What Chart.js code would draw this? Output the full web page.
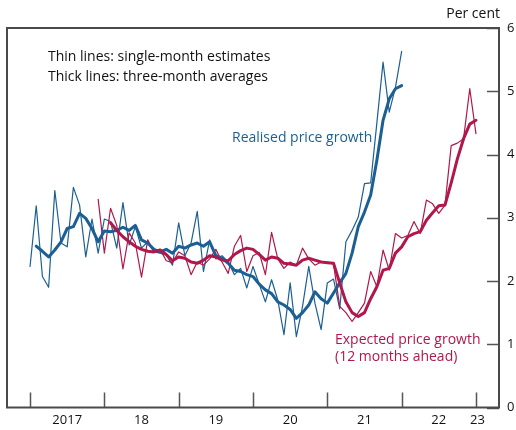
<!DOCTYPE html>
<html>
<head>
<meta charset="utf-8">
<script src="https://cdn.jsdelivr.net/npm/chart.js@4"></script>
<style>
  html, body { margin: 0; padding: 0; background: #ffffff; }
  #wrap { width: 516px; height: 430px; }
</style>
</head>
<body>
<div id="wrap"><canvas id="c" width="516" height="430"></canvas></div>
<script>
// ---- Data (monthly, per cent) ----
// Realised price growth, single-month estimates, from Jan 2017
const realisedStart = "2017-01";
const realisedSingle = [
  2.23, 3.19, 2.07, 1.90, 3.43, 2.60, 2.54, 3.48, 3.20, 2.38, 2.98, 2.44,
  2.98, 2.94, 2.52, 3.24, 2.57, 2.86, 2.52, 2.62, 2.46, 2.44, 2.41, 2.25,
  2.92, 2.40, 2.60, 3.10, 2.15, 2.65, 2.35, 2.40, 2.30, 2.10, 2.20, 1.89,
  2.23, 1.95, 1.67, 2.02, 1.70, 1.15, 1.97, 1.12, 1.60, 2.23, 1.65, 1.23,
  1.97, 2.03, 1.56, 2.62, 2.80, 3.01, 3.54, 3.55, 4.50, 5.46, 4.67, 5.06,
  5.63
];
// Realised price growth, three-month averages, from Feb 2017
const realisedAvgStart = "2017-02";
const realisedAvg = [
        2.55, 2.47, 2.38, 2.49, 2.62, 2.83, 2.86, 3.07, 2.99, 2.83, 2.62,
  2.79, 2.78, 2.80, 2.85, 2.80, 2.88, 2.65, 2.60, 2.50, 2.46, 2.50, 2.44,
  2.55, 2.52, 2.57, 2.60, 2.55, 2.62, 2.40, 2.36, 2.28, 2.17, 2.15, 2.10,
  2.07, 1.95, 1.86, 1.80, 1.67, 1.62, 1.55, 1.41, 1.50, 1.62, 1.83, 1.72,
  1.65, 1.81, 1.97, 2.12, 2.44, 2.86, 3.09, 3.36, 3.91, 4.54, 4.88, 5.04,
  5.09
];
// Expected price growth (12 months ahead), single-month estimates, from Dec 2017
const expectedStart = "2017-12";
const expectedSingle = [
                                                                      3.29,
  2.44, 3.15, 2.88, 2.19, 2.76, 2.60, 2.06, 2.65, 2.46, 2.50, 2.32, 2.29,
  2.46, 2.40, 2.10, 2.30, 2.25, 2.35, 2.50, 2.30, 2.12, 2.55, 2.72, 2.15,
  2.40, 2.45, 2.10, 2.77, 2.35, 2.20, 2.30, 2.25, 2.52, 2.35, 2.25, 2.30,
  2.30, 2.27, 1.60, 1.50, 1.36, 1.50, 1.65, 2.15, 1.91, 2.49, 2.17, 2.75,
  2.68, 2.72, 2.94, 2.75, 3.28, 3.22, 3.07, 3.20, 4.14, 4.18, 4.25, 5.04,
  4.33
];
// Expected price growth, three-month averages, from Feb 2018
const expectedAvgStart = "2018-02";
const expectedAvg = [
        2.92, 2.80, 2.70, 2.62, 2.55, 2.50, 2.47, 2.46, 2.49, 2.42, 2.32,
  2.38, 2.36, 2.30, 2.28, 2.33, 2.40, 2.38, 2.33, 2.32, 2.42, 2.48, 2.52,
  2.50, 2.42, 2.33, 2.38, 2.36, 2.28, 2.27, 2.25, 2.33, 2.36, 2.33, 2.30,
  2.29, 2.28, 1.97, 1.67, 1.50, 1.44, 1.50, 1.72, 1.91, 2.17, 2.20, 2.44,
  2.54, 2.70, 2.75, 2.78, 2.96, 3.08, 3.19, 3.20, 3.55, 3.93, 4.25, 4.48,
  4.54
];

// Axis labels
const xTickLabels = ["2017", "18", "19", "20", "21", "22", "23"];
const xTickLabelPositions = [2017.5, 2018.5, 2019.5, 2020.5, 2021.5, 2022.5, 2023.02];
const yearBoundaries = [2017, 2018, 2019, 2020, 2021, 2022, 2023];
const yTickValues = [0, 1, 2, 3, 4, 5, 6];

const BLUE = "#1b5f93";
const RED = "#b0174b";

function toPoints(start, values) {
  const [y, m] = start.split("-").map(Number);
  return values.map((v, i) => ({ x: y + (m - 1 + i) / 12, y: v }));
}

const FONT = "'Open Sans', 'Noto Sans', sans-serif";

const framePlugin = {
  id: "frame",
  beforeDatasetsDraw(chart) {
    const { ctx, chartArea: a, scales } = chart;
    ctx.save();
    // inward tick marks
    ctx.strokeStyle = "#555555";
    ctx.lineWidth = 1.5;
    ctx.beginPath();
    yearBoundaries.forEach(v => {
      const px = Math.round(scales.x.getPixelForValue(v)) + 0.5;
      ctx.moveTo(px, a.bottom);
      ctx.lineTo(px, a.bottom - 15);
    });
    yTickValues.forEach(v => {
      const py = Math.round(scales.y.getPixelForValue(v)) + 0.5;
      ctx.moveTo(a.right, py);
      ctx.lineTo(a.right - 12, py);
    });
    ctx.stroke();
    // frame
    ctx.strokeStyle = "#4a4a4a";
    ctx.lineWidth = 2;
    ctx.strokeRect(a.left, a.top, a.right - a.left, a.bottom - a.top);
    ctx.restore();
  },
  afterDraw(chart) {
    const { ctx } = chart;
    ctx.save();
    ctx.font = "14px " + FONT;
    ctx.textBaseline = "middle";
    ctx.textAlign = "left";
    ctx.fillStyle = "#111111";
    ctx.fillText("Thin lines: single-month estimates", 48, 57);
    ctx.fillText("Thick lines: three-month averages", 48, 77);
    ctx.fillStyle = BLUE;
    ctx.fillText("Realised price growth", 232, 138);
    ctx.fillStyle = RED;
    ctx.fillText("Expected price growth", 335, 340);
    ctx.fillText("(12 months ahead)", 335, 357);
    ctx.fillStyle = "#111111";
    ctx.textAlign = "right";
    ctx.fillText("Per cent", 500, 14);
    ctx.restore();
  }
};

new Chart(document.getElementById("c"), {
  type: "line",
  data: {
    datasets: [
      { data: toPoints(expectedAvgStart, expectedAvg), borderColor: RED, borderWidth: 3 },
      { data: toPoints(realisedAvgStart, realisedAvg), borderColor: BLUE, borderWidth: 3 },
      { data: toPoints(expectedStart, expectedSingle), borderColor: RED, borderWidth: 1.2 },
      { data: toPoints(realisedStart, realisedSingle), borderColor: BLUE, borderWidth: 1.2 }
    ]
  },
  options: {
    responsive: false,
    animation: false,
    devicePixelRatio: 1,
    layout: { padding: { left: 7, top: 28, right: 0, bottom: 0 } },
    elements: {
      point: { radius: 0, hoverRadius: 0 },
      line: { tension: 0, borderJoinStyle: "round", borderCapStyle: "round", fill: false }
    },
    plugins: { legend: { display: false }, tooltip: { enabled: false } },
    events: [],
    scales: {
      x: {
        type: "linear",
        min: 2016.69,
        max: 2023.31,
        grid: { display: false, drawTicks: false },
        border: { display: false },
        afterBuildTicks(scale) {
          scale.ticks = xTickLabelPositions.map(v => ({ value: v }));
        },
        afterFit(scale) { scale.height = 22.5; },
        ticks: {
          autoSkip: false,
          maxRotation: 0,
          padding: 5,
          color: "#111111",
          font: { family: FONT, size: 13 },
          callback: (v, i) => xTickLabels[i]
        }
      },
      y: {
        position: "right",
        min: 0,
        max: 6,
        grid: { display: false, drawTicks: false },
        border: { display: false },
        afterBuildTicks(scale) {
          scale.ticks = yTickValues.map(v => ({ value: v }));
        },
        afterFit(scale) { scale.width = 17; },
        ticks: {
          padding: 8,
          color: "#111111",
          font: { family: FONT, size: 13 },
          callback: v => String(v)
        }
      }
    }
  },
  plugins: [framePlugin]
});
</script>
</body>
</html>
